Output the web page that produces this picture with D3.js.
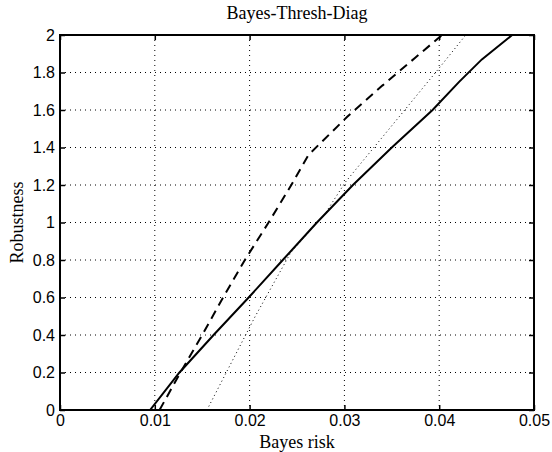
<!DOCTYPE html>
<html><head><meta charset="utf-8">
<script src="https://cdn.jsdelivr.net/npm/d3@7"></script>
<style>body{margin:0;background:#fff}svg{display:block}</style>
</head><body>
<script>
const title = "Bayes-Thresh-Diag";
const xLabel = "Bayes risk";
const yLabel = "Robustness";
const xTicks = [0, 0.01, 0.02, 0.03, 0.04, 0.05];
const xTickLabels = ["0", "0.01", "0.02", "0.03", "0.04", "0.05"];
const yTicks = [0, 0.2, 0.4, 0.6, 0.8, 1, 1.2, 1.4, 1.6, 1.8, 2];
const yTickLabels = ["0", "0.2", "0.4", "0.6", "0.8", "1", "1.2", "1.4", "1.6", "1.8", "2"];

// solid curve
const solidX = [0.0095, 0.0126, 0.0162, 0.0199, 0.0235, 0.0271, 0.0309, 0.0350, 0.0393, 0.0421, 0.0445, 0.0477];
const solidY = [0, 0.2, 0.4, 0.6, 0.8, 1.0, 1.2, 1.4, 1.6, 1.75, 1.87, 2.0];
// dashed curve
const dashedX = [0.0105, 0.0127, 0.0150, 0.0172, 0.0195, 0.0220, 0.0244, 0.0262, 0.0303, 0.0340, 0.0375, 0.0403];
const dashedY = [0, 0.2, 0.4, 0.6, 0.8, 1.0, 1.2, 1.36, 1.564, 1.73, 1.88, 2.0];
// dotted curve
const dottedX = [0.0155, 0.0206, 0.0243, 0.0280, 0.0301, 0.0362, 0.0401, 0.0428];
const dottedY = [0, 0.5, 0.836, 1.05, 1.215, 1.59, 1.83, 2.0];

const W = 552, H = 452;
const m = {left: 60, right: 534, top: 35, bottom: 410};
const svg = d3.select("body").append("svg").attr("width", W).attr("height", H);
const x = d3.scaleLinear().domain([0, 0.05]).range([m.left, m.right]);
const y = d3.scaleLinear().domain([0, 2]).range([m.bottom, m.top]);

const g = svg.append("g");
// grid
g.selectAll(".gx").data(xTicks.slice(1, -1)).enter().append("line")
  .attr("x1", d => x(d)).attr("x2", d => x(d)).attr("y1", m.top).attr("y2", m.bottom)
  .attr("stroke", "#000").attr("stroke-width", 1).attr("stroke-dasharray", "1,4");
g.selectAll(".gy").data(yTicks.slice(1, -1)).enter().append("line")
  .attr("y1", d => y(d)).attr("y2", d => y(d)).attr("x1", m.left).attr("x2", m.right)
  .attr("stroke", "#000").attr("stroke-width", 1).attr("stroke-dasharray", "1,4");

// axes
const fmtX = (d, i) => xTickLabels[i];
const fmtY = (d, i) => yTickLabels[i];
const ax = svg.append("g").attr("transform", `translate(0,${m.bottom})`)
  .call(d3.axisBottom(x).tickValues(xTicks).tickFormat(fmtX).tickSizeInner(-5).tickSizeOuter(0).tickPadding(5));
const axT = svg.append("g").attr("transform", `translate(0,${m.top})`)
  .call(d3.axisTop(x).tickValues(xTicks).tickFormat("").tickSizeInner(-5).tickSizeOuter(0));
const ay = svg.append("g").attr("transform", `translate(${m.left},0)`)
  .call(d3.axisLeft(y).tickValues(yTicks).tickFormat(fmtY).tickSizeInner(-5).tickSizeOuter(0).tickPadding(5));
const ayR = svg.append("g").attr("transform", `translate(${m.right},0)`)
  .call(d3.axisRight(y).tickValues(yTicks).tickFormat("").tickSizeInner(-5).tickSizeOuter(0));
[ax, axT, ay, ayR].forEach(a => {
  a.select(".domain").remove();
  a.selectAll(".tick line").attr("stroke", "#000").attr("stroke-width", 1.5);
  a.selectAll("text").attr("font-family", "'Liberation Sans', Arial, sans-serif").attr("font-size", 16).attr("fill", "#000");
});

// curves
const line = d3.line().x(d => x(d[0])).y(d => y(d[1]));
svg.append("clipPath").attr("id", "clip").append("rect")
  .attr("x", m.left).attr("y", m.top).attr("width", m.right - m.left).attr("height", m.bottom - m.top);
const cg = svg.append("g").attr("clip-path", "url(#clip)");
cg.append("path").datum(dottedX.map((v, i) => [v, dottedY[i]])).attr("d", line)
  .attr("fill", "none").attr("stroke", "#000").attr("stroke-width", 1).attr("stroke-dasharray", "1,3");
cg.append("path").datum(dashedX.map((v, i) => [v, dashedY[i]])).attr("d", line)
  .attr("fill", "none").attr("stroke", "#000").attr("stroke-width", 2).attr("stroke-dasharray", "9,6");
cg.append("path").datum(solidX.map((v, i) => [v, solidY[i]])).attr("d", line)
  .attr("fill", "none").attr("stroke", "#000").attr("stroke-width", 2);

// frame
svg.append("rect").attr("x", m.left).attr("y", m.top).attr("width", m.right - m.left).attr("height", m.bottom - m.top)
  .attr("fill", "none").attr("stroke", "#000").attr("stroke-width", 2);

// labels
const serif = "'Liberation Serif', 'Times New Roman', serif";
svg.append("text").attr("x", (m.left + m.right) / 2).attr("y", 19).attr("text-anchor", "middle")
  .attr("font-family", serif).attr("font-size", 18).text(title);
svg.append("text").attr("x", (m.left + m.right) / 2).attr("y", 448).attr("text-anchor", "middle")
  .attr("font-family", serif).attr("font-size", 18).text(xLabel);
svg.append("text").attr("transform", `translate(23,${(m.top + m.bottom) / 2}) rotate(-90)`).attr("text-anchor", "middle")
  .attr("font-family", serif).attr("font-size", 18).text(yLabel);
</script>
</body></html>
